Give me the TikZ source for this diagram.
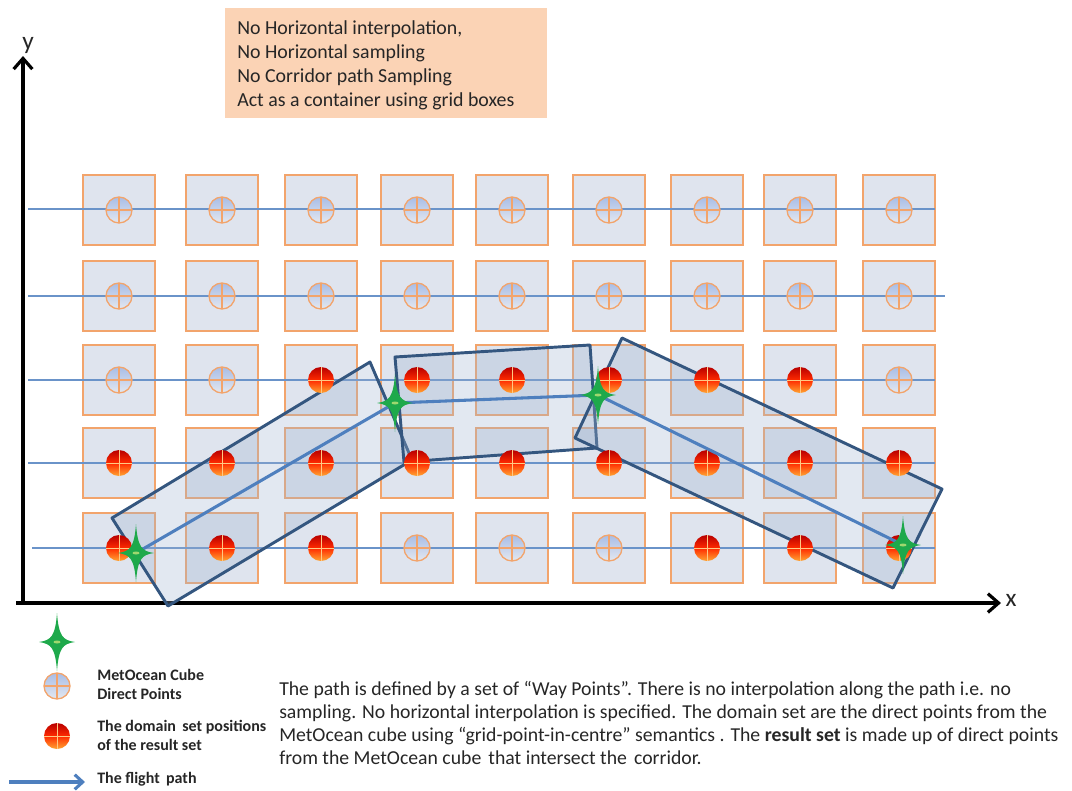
\documentclass[tikz,border=0pt]{standalone}
\usepackage{fontspec}
\setmainfont{Carlito}
\usetikzlibrary{arrows.meta,shadows}
\definecolor{boxfill}{HTML}{DFE4EE}
\definecolor{boxdraw}{HTML}{F2A46C}
\definecolor{hline}{HTML}{6A93C9}
\definecolor{corrfill}{HTML}{9FB3CF}
\definecolor{corrdraw}{HTML}{34567F}
\definecolor{flight}{HTML}{4E7FBE}
\definecolor{peach}{HTML}{FBD3B5}
\definecolor{stargreen}{HTML}{1EA94B}
\definecolor{starlight}{HTML}{9ED86E}
\definecolor{reddark}{HTML}{B80000}
\definecolor{redmid}{HTML}{FF2A00}
\definecolor{redlow}{HTML}{FFA532}
\definecolor{ptop}{HTML}{A8BDE6}
\definecolor{pbot}{HTML}{E4E8F0}
\definecolor{txt}{HTML}{262626}
\begin{document}
\begin{tikzpicture}[x=0.75pt,y=-0.75pt,
  gridbox/.style={rectangle, draw=boxdraw, line width=1.3pt, fill=boxfill,
    minimum width=53.5pt, minimum height=52pt, inner sep=0pt,
    drop shadow={opacity=0.12, shadow xshift=1.2pt, shadow yshift=-1.2pt}},
  pt0/.style={circle, minimum size=19.5pt, inner sep=0pt, draw=boxdraw, line width=1pt,
    top color=ptop, bottom color=pbot,
    path picture={\draw[boxdraw, line width=0.9pt]
      (path picture bounding box.north) -- (path picture bounding box.south)
      (path picture bounding box.west) -- (path picture bounding box.east);}},
  pt1/.style={circle, minimum size=19.5pt, inner sep=0pt,
    top color=reddark, bottom color=redlow, middle color=redmid,
    path picture={\draw[redlow!60!white, line width=0.5pt]
      (path picture bounding box.north) -- (path picture bounding box.south)
      (path picture bounding box.west) -- (path picture bounding box.east);}},
  hl/.style={hline, line width=1.1pt},
  corridor/.style={draw=corrdraw, line width=2.2pt, fill=corrfill, fill opacity=0.3, line join=round},
  fpath/.style={flight, line width=2.3pt},
  axis/.style={black, line width=2.4pt, -{Straight Barb[length=8pt, width=14pt, line width=2.4pt]}},
  wstar/.pic={
    \fill[stargreen] (0,-29) .. controls (1.8,-6) and (5.5,-1.8) .. (18,0)
      .. controls (5.5,1.8) and (1.8,6) .. (0,29)
      .. controls (-1.8,6) and (-5.5,1.8) .. (-18,0)
      .. controls (-5.5,-1.8) and (-1.8,-6) .. cycle;
    \fill[starlight] (0,0) ellipse (3.5 and 1.5);
  },
  notetext/.style={anchor=base west, inner sep=0pt, text=txt, font=\fontsize{14.9}{17}\selectfont},
  paratext/.style={anchor=base west, inner sep=0pt, text=txt, font=\fontsize{14.8}{17}\selectfont},
  legtext/.style={anchor=base west, inner sep=0pt, text=txt, font=\fontsize{12}{14}\selectfont\bfseries},
  axlabel/.style={inner sep=0pt, text=txt, font=\fontsize{19}{22}\selectfont}
]
\useasboundingbox (0,0) rectangle (1072,790);

% note box
\node[fill=peach, minimum width=241.5pt, minimum height=82pt, anchor=north west, inner sep=0pt] (note) at (225,8) {};
\node[notetext] (t1) at (237,34) {No Horizontal interpolation,};
\node[notetext] (t2) at (237,58) {No Horizontal sampling};
\node[notetext] (t3) at (237,82) {No Corridor path Sampling};
\node[notetext] (t4) at (237,106) {Act as a container using grid boxes};

% grid boxes
\foreach \y [count=\r] in {210,296,380,463,548}{
  \foreach \x [count=\c] in {119,222,321,417,512,609,707,800,899}{
    \node[gridbox] (b\r-\c) at (\x,\y) {};
  }
}

% horizontal lines
\draw[hl] (28,209) -- (935,209);
\draw[hl] (28,296) -- (945,296);
\draw[hl] (28,380) -- (935,380);
\draw[hl] (28,463) -- (935,463);
\draw[hl] (32,548) -- (935,548);

% axes
\coordinate (o) at (23,603);
\coordinate (xs) at (16,603);
\coordinate (ytip) at (23,56);
\coordinate (xtip) at (1001,603);
\draw[axis] (o) -- (ytip);
\draw[axis] (xs) -- (xtip);
\node[axlabel] (ylab) at (28,45) {y};
\node[axlabel] (xlab) at (1011,600) {x};

% corridors
\coordinate (c1a) at (112,518); \coordinate (c1b) at (370,362);
\coordinate (c1c) at (412,460); \coordinate (c1d) at (168,606);
\coordinate (c2a) at (395,357); \coordinate (c2b) at (590,345);
\coordinate (c2c) at (597,448); \coordinate (c2d) at (404,462);
\coordinate (c3a) at (622,338); \coordinate (c3b) at (942,489);
\coordinate (c3c) at (893,588); \coordinate (c3d) at (575,438);
\draw[corridor] (c1a) -- (c1b) -- (c1c) -- (c1d) -- cycle;
\draw[corridor] (c2a) -- (c2b) -- (c2c) -- (c2d) -- cycle;
\draw[corridor] (c3a) -- (c3b) -- (c3c) -- (c3d) -- cycle;

% points
\foreach \types [count=\r] in {{0,0,0,0,0,0,0,0,0},{0,0,0,0,0,0,0,0,0},{0,0,1,1,1,1,1,1,0},{1,1,1,1,1,1,1,1,1},{1,1,1,0,0,0,1,1,1}}{
  \foreach \t [count=\c] in \types {
    \node[pt\t] (p\r-\c) at (b\r-\c) {};
  }
}

% flight path
\coordinate (w1) at (136,553);
\coordinate (w2) at (395,403);
\coordinate (w3) at (598,395);
\coordinate (w4) at (903,545);
\draw[fpath] (w1) -- (w2) -- (w3) -- (w4);
\pic (s1) at (w1) {wstar};
\pic (s2) at (w2) {wstar};
\pic (s3) at (w3) {wstar};
\pic (s4) at (w4) {wstar};

% legend
\pic (ls) at (57,642) {wstar};
\node[pt0] (lp) at (57,686) {};
\node[pt1] (lr) at (57,736) {};
\coordinate (la1) at (9,782);
\coordinate (la2) at (85,782);
\draw[fpath, -{Straight Barb[length=6pt, width=11pt]}] (la1) -- (la2);
\node[legtext] (l1) at (97,680) {MetOcean Cube};
\node[legtext] (l2) at (97,699) {Direct Points};
\node[legtext] (l3) at (97,731) {The domain\hspace{2pt} set positions};
\node[legtext] (l4) at (97,750) {of the result set};
\node[legtext] (l5) at (97,783) {The flight\hspace{2pt} path};

% paragraph
\node[paratext] (q1) at (279,695) {The path is defined by a set of “Way Points”. There is no interpolation along the path i.e. no};
\node[paratext] (q2) at (279,718) {sampling. No horizontal interpolation is specified. The domain set are the direct points from the};
\node[paratext] (q3) at (279,741) {MetOcean cube using “grid-point-in-centre” semantics . The \textbf{result set} is made up of direct points};
\node[paratext] (q4) at (279,764) {from the MetOcean cube\hspace{2pt} that intersect the\hspace{2pt} corridor.};
\end{tikzpicture}
\end{document}
